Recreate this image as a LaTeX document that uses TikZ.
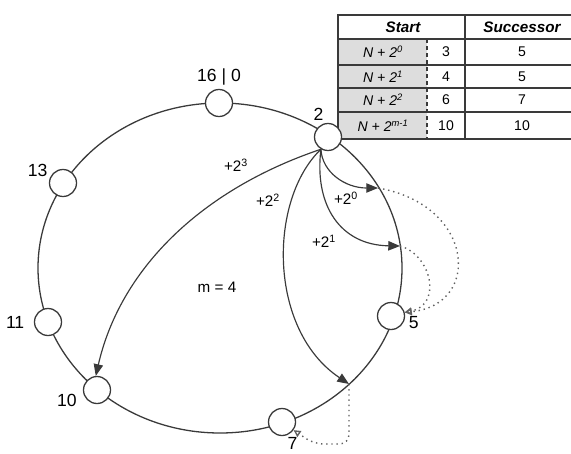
\documentclass[tikz,border=0pt]{standalone}
\usepackage{fontspec}
\setmainfont{Liberation Sans}
\usetikzlibrary{positioning,arrows.meta}
\definecolor{ringgray}{HTML}{3A3A3A}
\definecolor{cellgray}{HTML}{DDDDDD}

\begin{document}
\begin{tikzpicture}[
    x=0.03cm, y=-0.03cm,
    peer/.style={draw=ringgray, line width=1.1pt, circle, fill=white, minimum size=0.81cm, inner sep=0pt},
    lbl/.style={inner sep=0pt, font=\fontsize{15}{17}\selectfont},
    hop/.style={inner sep=0pt, font=\fontsize{13}{15}\selectfont},
    cell/.style={inner sep=0pt, font=\fontsize{12}{14}\selectfont},
    finger/.style={-{Triangle[length=10pt,width=8pt]}, line width=1pt, draw=ringgray},
    succ/.style={-{Triangle[open,length=6pt,width=6pt]}, line width=1.2pt, dash pattern=on 1.2pt off 3.2pt, draw=ringgray!80}
]
\useasboundingbox (0,0) rectangle (571,453);

% finger table of node 2
\fill[cellgray] (339,39) rectangle (427,139);
\draw[line width=1.6pt, ringgray] (571,15) -- (338,15) -- (338,139) -- (571,139);
\foreach \y in {39,65,88,112}
    \draw[line width=1.4pt, ringgray] (338,\y) -- (571,\y);
\draw[line width=1.6pt, ringgray] (465,15) -- (465,139);
\draw[line width=1.4pt, ringgray, dash pattern=on 3pt off 3pt] (427,39) -- (427,139);
\node[cell, font=\fontsize{13}{15}\selectfont\bfseries\itshape] (hstart) at (403,27) {Start};
\node[cell, font=\fontsize{13}{15}\selectfont\bfseries\itshape] (hsucc) at (522,27) {Successor};
\foreach \e/\s/\v/\y [count=\i] in {0/3/5/52, 1/4/5/77, 2/6/7/100, m-1/10/10/126} {
    \node[cell] (f\i) at (383,\y) {\textit{N + 2\textsuperscript{\e}}};
    \node[cell] (s\i) at (446,\y) {\s};
    \node[cell] (v\i) at (522,\y) {\v};
}

% ring
\draw[ringgray, line width=1.1pt] (220,268) ellipse [x radius=182, y radius=165];

\node[peer] (n16) at (219,103) {};
\node[peer] (n2) at (328,137) {};
\node[peer] (n5) at (391,316) {};
\node[peer] (n7) at (282,422) {};
\node[peer] (n10) at (97,390) {};
\node[peer] (n11) at (48,322) {};
\node[peer] (n13) at (63,183) {};

\node[lbl, above=3pt of n16] (l16) {16 | 0};
\node[lbl, above=2pt of n2, xshift=-8pt] (l2) {2};
\node[lbl, right=3pt of n5, yshift=-6pt] (l5) {5};
\node[lbl, below=1pt of n7, xshift=9pt] (l7) {7};
\node[lbl, left=5pt of n10, yshift=-9pt] (l10) {10};
\node[lbl, left=8pt of n11] (l11) {11};
\node[lbl, left=1pt of n13, yshift=11pt] (l13) {13};

\coordinate (t0) at (378,188);
\coordinate (t1) at (400,246);
\coordinate (t2) at (349,384);
\coordinate (k7) at (314,444);

% fingers
\draw[finger] (n2.240) .. controls (200,190) and (120,270) .. (n10.95);
\draw[finger] (n2.240) .. controls (268,200) and (268,330) .. (t2);
\draw[finger] (n2.240) .. controls (322,172) and (345,188) .. (t0);
\draw[finger] (n2.240) .. controls (314,205) and (340,245) .. (t1);

% successors
\draw[succ] (t0) .. controls (475,205) and (482,305) .. (n5.15);
\draw[succ] (t1) .. controls (432,255) and (442,305) .. (n5.15);
\draw[succ, rounded corners=8pt] (t2) |- (k7) -- (n7.-35);

\node[hop] (h3) at (236,165) {+2\textsuperscript{3}};
\node[hop] (h2) at (268,200) {+2\textsuperscript{2}};
\node[hop] (h0) at (346,198) {+2\textsuperscript{0}};
\node[hop] (h1) at (324,241) {+2\textsuperscript{1}};
\node[hop] (mval) at (217,287) {m = 4};
\end{tikzpicture}
\end{document}
